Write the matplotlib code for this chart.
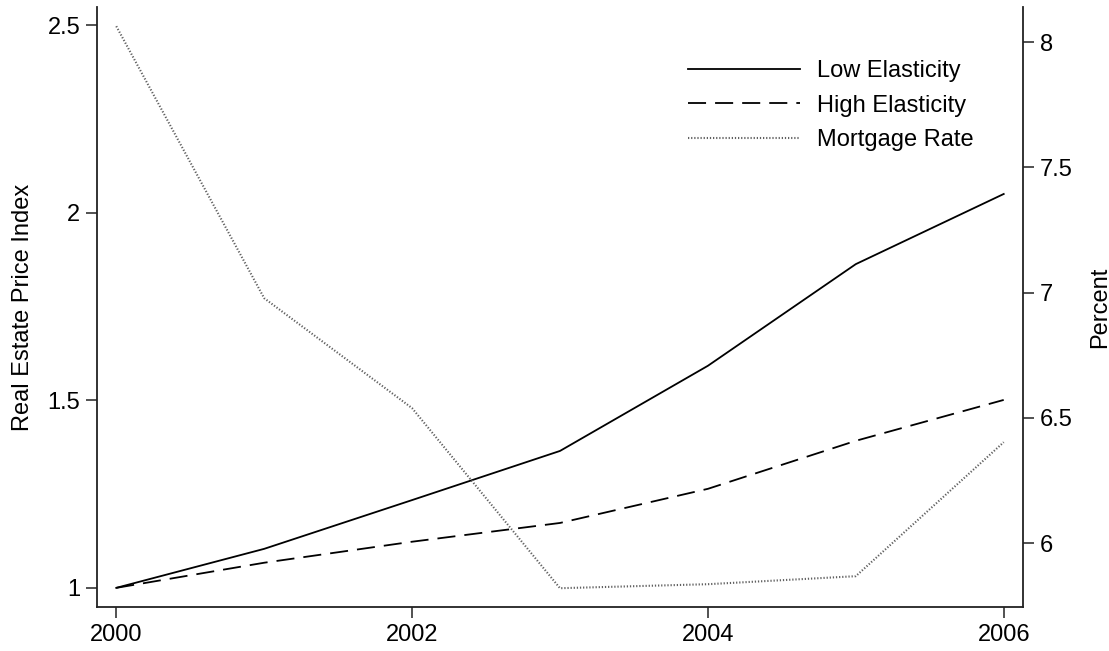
import matplotlib
matplotlib.use("Agg")
import matplotlib.pyplot as plt

plt.rcParams['font.family'] = ['Liberation Sans', 'DejaVu Sans']

years = [2000, 2001, 2002, 2003, 2004, 2005, 2006]
low_elasticity = [1.0, 1.104, 1.234, 1.365, 1.592, 1.863, 2.05]
high_elasticity = [1.0, 1.067, 1.123, 1.173, 1.264, 1.392, 1.501]
mortgage_rate = [8.064, 6.978, 6.539, 5.82, 5.836, 5.868, 6.403]

x_ticks = [2000, 2002, 2004, 2006]
left_ticks = [1, 1.5, 2, 2.5]
left_labels = ["1", "1.5", "2", "2.5"]
right_ticks = [6, 6.5, 7, 7.5, 8]
right_labels = ["6", "6.5", "7", "7.5", "8"]

FS = 17

fig = plt.figure(figsize=(11.09, 6.51), dpi=100)
ax = fig.add_axes([0.0875, 0.0676, 0.9224 - 0.0875, 0.989 - 0.0676])
ax2 = ax.twinx()

l1, = ax.plot(years, low_elasticity, color='black', lw=1.3, label='Low Elasticity')
l2, = ax.plot(years, high_elasticity, color='black', lw=1.3, linestyle=(0, (10, 5)), label='High Elasticity')
l3, = ax2.plot(years, mortgage_rate, color='#606060', lw=1.5, linestyle=(0, (0.6, 0.9)), label='Mortgage Rate')

ax.set_xlim(1999.87, 2006.13)
ax.set_ylim(0.949, 2.548)
ax2.set_ylim(5.745, 8.14)

ax.set_xticks(x_ticks)
ax.set_xticklabels([str(v) for v in x_ticks])
ax.set_yticks(left_ticks)
ax.set_yticklabels(left_labels)
ax2.set_yticks(right_ticks)
ax2.set_yticklabels(right_labels)

for a in (ax, ax2):
    a.spines['top'].set_visible(False)
    for s in a.spines.values():
        s.set_linewidth(1.3)
        s.set_color('#222222')
    a.tick_params(direction='out', length=8, width=1.1, labelsize=FS, colors='#222222', labelcolor='black', pad=4)

ax.spines['right'].set_visible(False)
ax2.spines['left'].set_visible(False)
ax2.spines['bottom'].set_visible(False)

ax.set_ylabel('Real Estate Price Index', fontsize=FS, labelpad=10)
ax2.set_ylabel('Percent', fontsize=FS, labelpad=12)

leg = ax.legend(handles=[l1, l2, l3], loc='upper left', bbox_to_anchor=(0.638, 0.912),
                frameon=False, fontsize=FS, handlelength=4.75, handletextpad=0.72,
                labelspacing=0.54, borderaxespad=0, borderpad=0)

fig.savefig('out.png', dpi=100)
